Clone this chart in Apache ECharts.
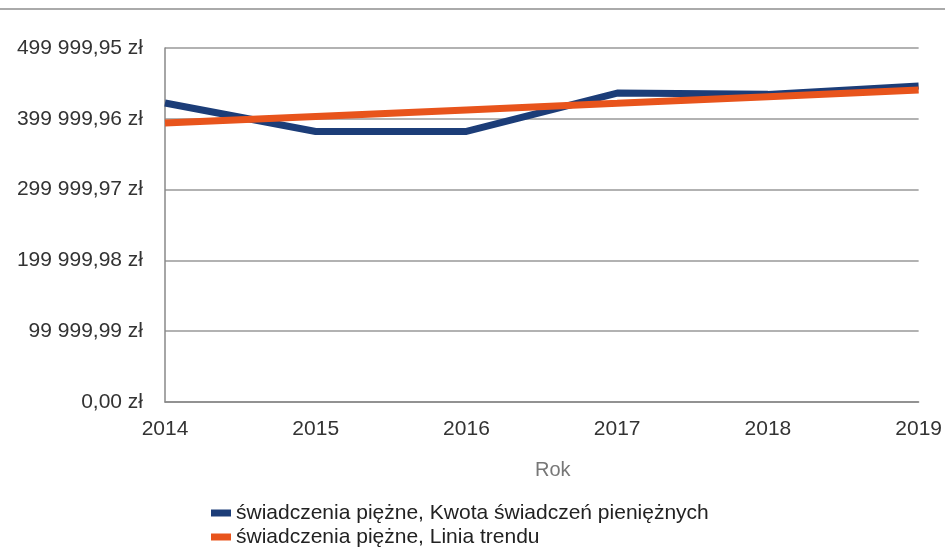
<!DOCTYPE html>
<html>
<head>
<meta charset="utf-8">
<script src="https://cdn.jsdelivr.net/npm/echarts@6/dist/echarts.min.js"></script>
<style>
  html, body { margin: 0; padding: 0; background: #fff; }
  #chart { width: 945px; height: 551px; }
</style>
</head>
<body>
<div id="chart"></div>
<script>
// dane
var years = ['2014', '2015', '2016', '2017', '2018', '2019'];
var kwota = [422300, 382100, 382100, 436400, 434500, 446300];
var trend = [394000, 403300, 412600, 421900, 431300, 440600];
var seriesNames = ['świadczenia piężne, Kwota świadczeń pieniężnych', 'świadczenia piężne, Linia trendu'];
var yMax = 499999.95;
var yStep = 99999.99;

// 499999.95 -> "499 999,95"
function plMoney(v) {
    var parts = v.toFixed(2).split('.');
    var intPart = parts[0].replace(/\B(?=(\d{3})+(?!\d))/g, ' ');
    return intPart + ',' + parts[1];
}

var chart = echarts.init(document.getElementById('chart'));
var option = {
    animation: false,
    textStyle: { fontFamily: 'Liberation Sans, Arial, sans-serif' },
    grid: { left: 165, right: 22, top: 48, bottom: 149 },
    legend: {
        orient: 'vertical',
        left: 211,
        top: 502,
        padding: 0,
        icon: 'rect',
        itemWidth: 20,
        itemHeight: 7,
        itemGap: 2,
        textStyle: { fontSize: 21, lineHeight: 22, color: '#222' },
        data: seriesNames
    },
    xAxis: {
        type: 'category',
        data: years,
        boundaryGap: false,
        axisLine: { lineStyle: { color: '#888', width: 1.5 } },
        axisTick: { show: false },
        axisLabel: { fontSize: 21, color: '#333', margin: 17 },
        name: 'Rok',
        nameLocation: 'middle',
        nameGap: 58,
        nameTextStyle: { fontSize: 20, color: '#777', padding: [0, 0, 0, 22] }
    },
    yAxis: {
        type: 'value',
        min: 0,
        max: yMax,
        interval: yStep,
        axisLine: { show: true, lineStyle: { color: '#888', width: 1.5 } },
        axisTick: { show: false },
        splitLine: { lineStyle: { color: '#999', width: 1.5 } },
        axisLabel: {
            fontSize: 21,
            color: '#333',
            margin: 22,
            formatter: function (v) { return plMoney(v) + ' zł'; }
        }
    },
    graphic: [{
        type: 'line',
        shape: { x1: 0, y1: 9, x2: 945, y2: 9 },
        style: { stroke: '#aaa', lineWidth: 2 }
    }],
    series: [
        {
            name: seriesNames[0],
            type: 'line',
            data: kwota,
            symbol: 'none',
            itemStyle: { color: '#1c3d78' },
            lineStyle: { color: '#1c3d78', width: 7 }
        },
        {
            name: seriesNames[1],
            type: 'line',
            data: trend,
            symbol: 'none',
            itemStyle: { color: '#e8541c' },
            lineStyle: { color: '#e8541c', width: 7 }
        }
    ]
};
chart.setOption(option);
</script>
</body>
</html>
